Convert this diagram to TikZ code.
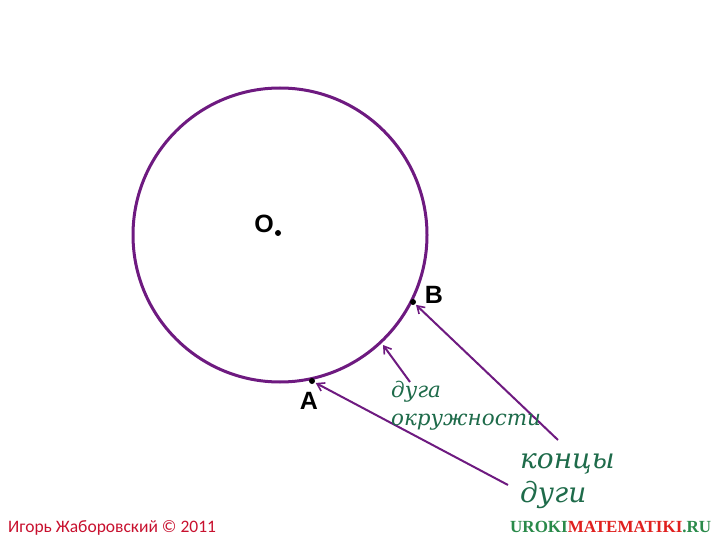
\documentclass[tikz,border=0pt]{standalone}
\usepackage{fontspec}
\setmainfont{Liberation Serif}
\newfontfamily\labfont{Liberation Sans}
\newfontfamily\arcfont{DejaVu Serif}
\newfontfamily\authfont{Carlito}
\usetikzlibrary{arrows.meta}
\definecolor{arcpurple}{HTML}{6E1A80}
\definecolor{txtgreen}{HTML}{1E6B4A}
\definecolor{logogreen}{HTML}{2A8A4A}
\definecolor{logored}{HTML}{E0201E}
\definecolor{authred}{HTML}{C8102E}
\tikzset{
  ptdot/.style={circle,fill=black,inner sep=0pt,minimum size=6pt},
  ptlabel/.style={font=\labfont\bfseries\fontsize{25}{25}\selectfont,inner sep=0pt},
  arrowline/.style={draw=arcpurple,line width=2pt,-{Straight Barb[length=7pt,width=9pt,line width=1.6pt]}},
  arctext/.style={font=\arcfont\itshape\fontsize{21.5}{21.5}\selectfont,text=txtgreen,inner sep=0pt,anchor=base west},
  endtext/.style={font=\arcfont\itshape\fontsize{28}{28}\selectfont,text=txtgreen,inner sep=0pt,anchor=base west}
}
\begin{document}
\begin{tikzpicture}[x=1pt,y=-1pt]
\useasboundingbox[fill=white] (0,0) rectangle (720,540);
\draw[arcpurple,line width=3pt] (280,235) circle[radius=147];
\node[ptdot] (O) at (278,233) {};
\node[ptlabel] (Olab) at (264,224) {O};
\node[ptdot] (B) at (413,302) {};
\node[ptlabel] (Blab) at (434,295) {B};
\node[ptdot] (A) at (312,381) {};
\node[ptlabel] (Alab) at (309,401) {A};
\coordinate (arcpt) at (383,345);
\coordinate (arctail) at (410,382);
\coordinate (btail) at (558,440);
\coordinate (atail) at (508,485);
\draw[arrowline] (arctail) -- (arcpt);
\draw[arrowline,shorten >=1pt] (btail) -- (B);
\draw[arrowline,shorten >=1pt] (atail) -- (A);
\node[arctext] (t1) at (391,397) {дуга};
\node[arctext] (t2) at (391,425) {окружности};
\node[endtext] (t3) at (520,468) {концы};
\node[endtext] (t4) at (520,502) {дуги};
\node[font=\authfont\fontsize{17.5}{17.5}\selectfont,text=authred,inner sep=0pt,anchor=base west] (auth) at (8,532) {Игорь Жаборовский © 2011};
\node[font=\bfseries\fontsize{17}{17}\selectfont,inner sep=0pt,anchor=base west] (logo) at (510,532) {\textcolor{logogreen}{UROKI}\textcolor{logored}{MATEMATIKI}\textcolor{logogreen}{.RU}};
\end{tikzpicture}
\end{document}
